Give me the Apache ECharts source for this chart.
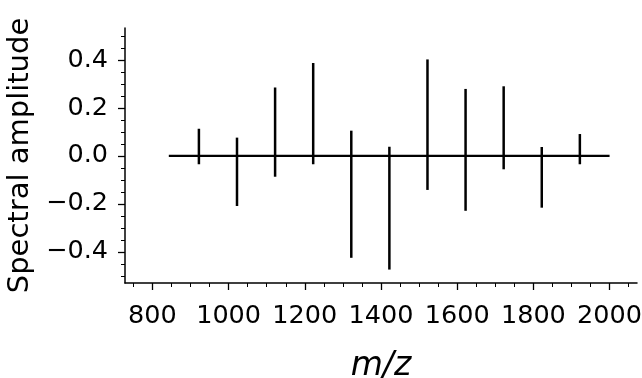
<!DOCTYPE html>
<html>
<head>
<meta charset="utf-8">
<script src="https://cdn.jsdelivr.net/npm/echarts@6/dist/echarts.min.js"></script>
<style>
  html, body { margin: 0; padding: 0; background: #fff; }
  #chart { width: 642px; height: 378px; }
</style>
</head>
<body>
<div id="chart"></div>
<script>
// peak positions (m/z) and the low / high ends of each stick
const peakMz = [922, 1022, 1122, 1222, 1322, 1422, 1522, 1622, 1722, 1822, 1922];
const peakLow = [-0.035, -0.209, -0.087, -0.035, -0.425, -0.474, -0.142, -0.229, -0.056, -0.216, -0.035];
const peakHigh = [0.113, 0.076, 0.285, 0.387, 0.105, 0.038, 0.402, 0.279, 0.290, 0.037, 0.091];

// baseline trace
const baseMz = [843, 1422, 1522, 2000];
const baseAmp = [0, 0, 0, 0];

// ticks
const xMajor = [800, 1000, 1200, 1400, 1600, 1800, 2000];
const xMinor = [750, 850, 900, 950, 1050, 1100, 1150, 1250, 1300, 1350, 1450, 1500, 1550,
  1650, 1700, 1750, 1850, 1900, 1950, 2050];
const yMajor = [-0.4, -0.2, 0, 0.2, 0.4];
const yMinor = [-0.5, -0.45, -0.35, -0.3, -0.25, -0.15, -0.1, -0.05, 0.05, 0.1, 0.15, 0.25, 0.3, 0.35, 0.45, 0.5];

const FONT = 'DejaVu Sans';
const xMin = 728, xMax = 2072;
const yMin = -0.53, yMax = 0.533;

const chart = echarts.init(document.getElementById('chart'));

const sticks = peakMz.map((m, i) => [m, peakLow[i], peakHigh[i]]);

chart.setOption({
  animation: false,
  grid: { left: 125, right: 5, top: 28, bottom: 95, containLabel: false, outerBoundsMode: 'none' },
  xAxis: [
    {
      type: 'value', min: xMin, max: xMax,
      name: 'm/z', nameLocation: 'middle', nameGap: 67,
      nameTextStyle: { fontFamily: FONT, fontSize: 33, fontStyle: 'italic', color: '#000' },
      axisLine: { show: true, onZero: false, lineStyle: { color: '#000', width: 1.5 } },
      axisTick: { show: true, customValues: xMajor, length: 7, lineStyle: { color: '#000', width: 1.3 } },
      axisLabel: { customValues: xMajor, margin: 20, fontFamily: FONT, fontSize: 25.5, color: '#000',
        formatter: v => String(v) },
      splitLine: { show: false }
    },
    {
      type: 'value', min: xMin, max: xMax, position: 'bottom',
      axisLine: { show: false, onZero: false },
      axisTick: { show: true, customValues: xMinor, length: 4, lineStyle: { color: '#000', width: 1 } },
      axisLabel: { show: false },
      splitLine: { show: false }
    }
  ],
  yAxis: [
    {
      type: 'value', min: yMin, max: yMax,
      name: 'Spectral amplitude', nameLocation: 'middle', nameGap: 81, nameRotate: 90,
      nameTextStyle: { fontFamily: FONT, fontSize: 29, color: '#000' },
      axisLine: { show: true, onZero: false, lineStyle: { color: '#000', width: 1.5 } },
      axisTick: { show: true, customValues: yMajor, length: 7, lineStyle: { color: '#000', width: 1.3 } },
      axisLabel: {
        customValues: yMajor, margin: 17, fontFamily: FONT, fontSize: 25.5, color: '#000',
        formatter: v => (v < 0 ? '\u2212' : '') + Math.abs(v).toFixed(1)
      },
      splitLine: { show: false }
    },
    {
      type: 'value', min: yMin, max: yMax, position: 'left',
      axisLine: { show: false, onZero: false },
      axisTick: { show: true, customValues: yMinor, length: 4, lineStyle: { color: '#000', width: 1 } },
      axisLabel: { show: false },
      splitLine: { show: false }
    }
  ],
  series: [
    {
      type: 'line',
      data: baseMz.map((m, i) => [m, baseAmp[i]]),
      showSymbol: false,
      lineStyle: { color: '#000', width: 2.2 },
      z: 2
    },
    {
      type: 'custom',
      data: sticks,
      renderItem: function (params, api) {
        const p0 = api.coord([api.value(0), api.value(1)]);
        const p1 = api.coord([api.value(0), api.value(2)]);
        return {
          type: 'line',
          shape: { x1: p0[0], y1: p0[1], x2: p1[0], y2: p1[1] },
          style: { stroke: '#000', lineWidth: 2.5 }
        };
      },
      z: 3
    }
  ]
});
</script>
</body>
</html>
